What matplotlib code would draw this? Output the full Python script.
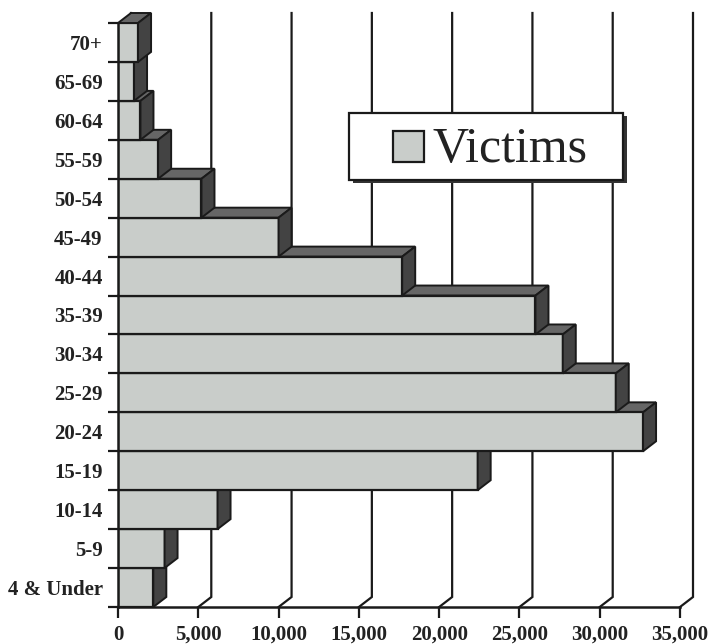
import matplotlib
matplotlib.use("Agg")
import matplotlib.pyplot as plt
import numpy as np
from matplotlib.patches import Polygon, Rectangle

# data: age groups (bottom to top) and number of victims
age_groups = ['4 & Under', '5-9', '10-14', '15-19', '20-24', '25-29', '30-34',
              '35-39', '40-44', '45-49', '50-54', '55-59', '60-64', '65-69', '70+']
victims = [2200, 2900, 6200, 22400, 32700, 31000, 27700,
           26000, 17700, 10000, 5200, 2500, 1400, 1000, 1250]
x_ticks = [0, 5000, 10000, 15000, 20000, 25000, 30000, 35000]
series_name = 'Victims'

serif = ['Liberation Serif', 'DejaVu Serif']
front_col = '#c9cdca'
side_col = '#434343'
top_col = '#666666'
edge = '#1a1a1a'

fig = plt.figure(figsize=(7.24, 6.44), dpi=100)
ax = fig.add_axes([118 / 724, 37 / 644, 562 / 724, 584 / 644])
n = len(age_groups)
ax.set_xlim(0, 35000)
ax.set_ylim(-0.5, n - 0.5)

# depth of the fake 3d effect, 13 px right and 10 px up
inv = ax.transData.inverted()
p0 = ax.transData.transform((0, 0))
ddx, ddy = inv.transform(p0 + np.array([13, 10])) - inv.transform(p0)

# back wall gridlines with floor diagonals
y0, y1 = -0.5, n - 0.5
for t in x_ticks:
    ax.plot([t, t + ddx, t + ddx], [y0, y0 + ddy, y1 + ddy], color=edge,
            lw=1.6, zorder=1, clip_on=False, solid_joinstyle='miter')

# bars, drawn bottom to top so upper bars hide the tops of lower ones
for i, v in enumerate(victims):
    lo, hi = i - 0.5, i + 0.5
    ax.barh(i, v, height=1.0, left=0, color=front_col, edgecolor=edge,
            linewidth=1.6, zorder=2 + i * 0.01)
    side = Polygon([(v, lo), (v, hi), (v + ddx, hi + ddy), (v + ddx, lo + ddy)],
                   closed=True, facecolor=side_col, edgecolor=edge, lw=1.4,
                   zorder=2 + i * 0.01, clip_on=False)
    top = Polygon([(0, hi), (v, hi), (v + ddx, hi + ddy), (ddx, hi + ddy)],
                  closed=True, facecolor=top_col, edgecolor=edge, lw=1.4,
                  zorder=2 + i * 0.01 - 0.001, clip_on=False)
    ax.add_patch(top)
    ax.add_patch(side)

# axes styling
for s in ['top', 'right']:
    ax.spines[s].set_visible(False)
for s in ['left', 'bottom']:
    ax.spines[s].set_linewidth(1.8)
    ax.spines[s].set_color(edge)
    ax.spines[s].set_zorder(5)

ax.set_yticks(range(n))
ax.set_yticklabels(age_groups)
ax.set_yticks(np.arange(-0.5, n, 1.0), minor=True)
ax.tick_params(axis='y', which='major', length=0, pad=11)
ax.tick_params(axis='y', which='minor', length=7.5, width=1.6, color=edge)
ax.set_xticks(x_ticks)
ax.set_xticklabels(['{:,}'.format(t) for t in x_ticks])
ax.tick_params(axis='x', length=8, width=1.6, color=edge, pad=5)
for lab in ax.get_xticklabels() + ax.get_yticklabels():
    lab.set_family(serif)
    lab.set_fontweight('bold')
    lab.set_fontsize(15)
    lab.set_color('#222222')

# legend box drawn by hand (with drop shadow)
lx, ly, lw_, lh = 0.411, 0.731, 0.4876, 0.115
ax.add_patch(Rectangle((lx + 0.007, ly - 0.005), lw_, lh, transform=ax.transAxes,
                       facecolor='#333333', edgecolor='none', zorder=9))
ax.add_patch(Rectangle((lx, ly), lw_, lh, transform=ax.transAxes,
                       facecolor='white', edgecolor=edge, lw=1.6, zorder=10))
ax.add_patch(Rectangle((0.489, 0.762), 0.0552, 0.0531, transform=ax.transAxes,
                       facecolor=front_col, edgecolor=edge, lw=1.6, zorder=11))
ax.text(0.559, 0.762, series_name, transform=ax.transAxes, family=serif,
        fontsize=36, va='baseline', ha='left', color='#222222', zorder=11)

fig.savefig('out.png', dpi=100, facecolor='white')
